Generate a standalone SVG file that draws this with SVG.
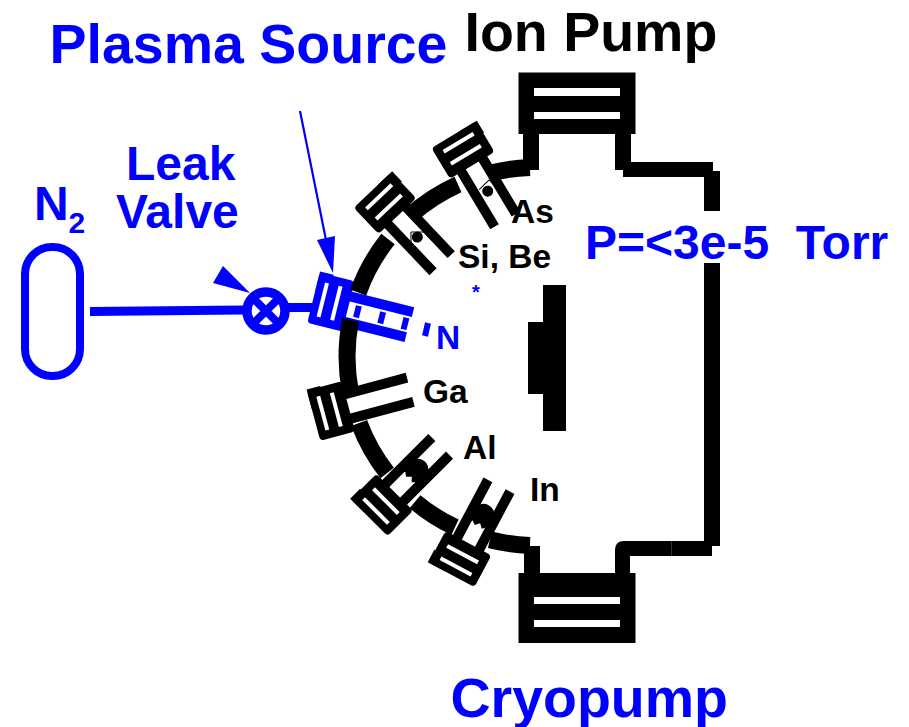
<svg xmlns="http://www.w3.org/2000/svg" width="909" height="727" viewBox="0 0 909 727">
<style>
text{font-family:"Liberation Sans",Arial,sans-serif;font-weight:bold;white-space:pre}
.b{fill:#0000ff}.k{fill:#000}
.big{font-size:55.5px}.mid{font-size:48px}.lab{font-size:33.5px}
.wall{fill:none;stroke:#000;stroke-width:17}
.rod{stroke-width:10;fill:none}
.kr{stroke:#000}.br{stroke:#0000ff}
.gap{fill:#fff}
.thin{fill:none;stroke:#000;stroke-width:1}
</style>
<defs>
<g id="head"><rect x="-18" y="-26" width="36" height="52" rx="4"/><rect x="-18" y="-27" width="14" height="20"/><rect class="gap" x="-10.500" y="-17.500" width="4" height="35"/><rect class="gap" x="3.500" y="-17.500" width="4" height="35"/></g>
<g id="charge"><path d="M36,-11 L40,-7 L37,-3 L41,1 L37,5 L40,8 L36,11 L50,11 A11,11 0 0 0 50,-11 Z"/></g>
</defs>
<rect width="909" height="727" fill="#fff"/>

<g id="nitrogen-source" class="b">
<rect x="25" y="247" width="55" height="129" rx="27" fill="none" stroke="#0000ff" stroke-width="8"/>
<text class="mid" x="34" y="220">N</text>
<text x="68.500" y="233" font-size="30">2</text>
</g>
<g id="leak-valve" class="b">
<circle cx="266" cy="311" r="19" fill="#fff" stroke="#0000ff" stroke-width="9.500"/>
<path d="M254,299 L278,323 M278,299 L254,323" stroke="#0000ff" stroke-width="8" fill="none"/>
<polygon points="223,266 213,283 250,293"/>
<text class="mid" x="126" y="180">Leak</text>
<text class="mid" x="116" y="228">Valve</text>
</g>

<g id="cell-N" class="b" transform="translate(331,302) rotate(14)">
<use href="#head"/>
<path class="rod br" d="M15,-10 H82 M15,16 H81"/>
<path d="M28,-3 V9 M53,-3 V9 M77,-3 V9" stroke="#0000ff" stroke-width="6" fill="none"/>
</g>
<g id="cell-N-label" class="b">
<path d="M428,323 L425,336" stroke="#0000ff" stroke-width="6" fill="none"/>
<text class="lab" x="436" y="349">N</text>
<text x="472" y="299" font-size="20">*</text>
</g>

<g id="chamber">
<path class="wall" d="M530,167.5 A189,189 0 0 0 489,173.4 M458,184.4 A189,189 0 0 0 410,215.6 M388,239 A189,189 0 0 0 358.2,292.5 M350.6,320 A189,189 0 0 0 350.4,392 M359.1,423 A189,189 0 0 0 387.2,473 M415,501.7 A189,189 0 0 0 455,527.3 M490,539.8 A189,189 0 0 0 530,545.5"/>
<path d="M523,134 H539 V170 H523 Z M524,546 H540 V578 H524 Z"/>
<path d="M615,134 H631 V162 H713 V171 H720 V211 H704 V177 H623 V170 H615 Z"/>
<path d="M704,263 H720 V546 H712 V556 H630 V580 H615 V550 Q615,541 624,541 H704 Z"/>
<path d="M671.500,541 V556" stroke="#555" stroke-width="0.600"/>
</g>

<g id="ion-pump">
<rect x="518.500" y="72.500" width="117" height="61.500"/>
<rect class="gap" x="534" y="88" width="86" height="8"/>
<rect class="gap" x="534" y="112" width="86" height="7"/>
<text class="big" x="464.500" y="51">Ion Pump</text>
</g>
<g id="cryopump">
<rect x="518.500" y="573" width="117" height="70"/>
<rect class="gap" x="534" y="597" width="86" height="7"/>
<rect class="gap" x="534" y="620" width="86" height="7"/>
<text class="big b" x="450.500" y="717">Cryopump</text>
</g>
<g id="substrate"><polygon points="543,285 566,285 566,431 543,431 543,394 528,394 528,322 543,322"/></g>

<g id="cell-As" transform="translate(463,150) rotate(59)">
<use href="#head"/>
<path class="rod kr" d="M15,-12.5 H82 M15,12.5 H82"/>
<circle cx="48" cy="0" r="5.500"/><path class="thin" d="M39,-7 V7 M39,-7 H53" transform="rotate(-14 39 -7)"/>
</g>
<text class="lab k" x="511" y="223">As</text>
<g id="cell-SiBe" transform="translate(385,203) rotate(46.5)">
<use href="#head"/>
<path class="rod kr" d="M15,-12.5 H83 M15,12.5 H83"/>
<circle cx="47" cy="0" r="5.500"/>
</g>
<path class="thin" d="M411,245 V232 H424"/>
<text class="lab k" x="458" y="268">Si, Be</text>

<g id="cell-Ga" transform="translate(331,411) rotate(-15)">
<use href="#head"/>
<path class="rod kr" d="M15,-12.5 H82 M15,12.5 H82"/>
</g>
<text class="lab k" x="423" y="403">Ga</text>
<g id="cell-Al" transform="translate(382,505) rotate(-45)">
<use href="#head"/>
<path class="rod kr" d="M15,-12.5 H83 M15,12.5 H83"/>
<use href="#charge"/>
</g>
<text class="lab k" x="463" y="459">Al</text>
<g id="cell-In" transform="translate(460,559) rotate(-62)">
<use href="#head"/>
<path class="rod kr" d="M15,-12.5 H83 M15,12.5 H83"/>
<use href="#charge"/>
</g>
<text class="lab k" x="530" y="501">In</text>

<g id="labels" class="b">
<text class="big" x="49.500" y="63">Plasma Source</text>
<text class="mid" x="585" y="259">P=&lt;3e-5  Torr</text>
</g>
<g id="connectors">
<path d="M90,311.5 L243,310 M285,307.5 H312" stroke="#0000ff" stroke-width="9" fill="none"/>
<path d="M300,111 L326,240" stroke="#0000ff" stroke-width="2.2" fill="none"/>
<polygon points="333,273 317,240 335,236" fill="#0000ff"/>
</g>
</svg>
